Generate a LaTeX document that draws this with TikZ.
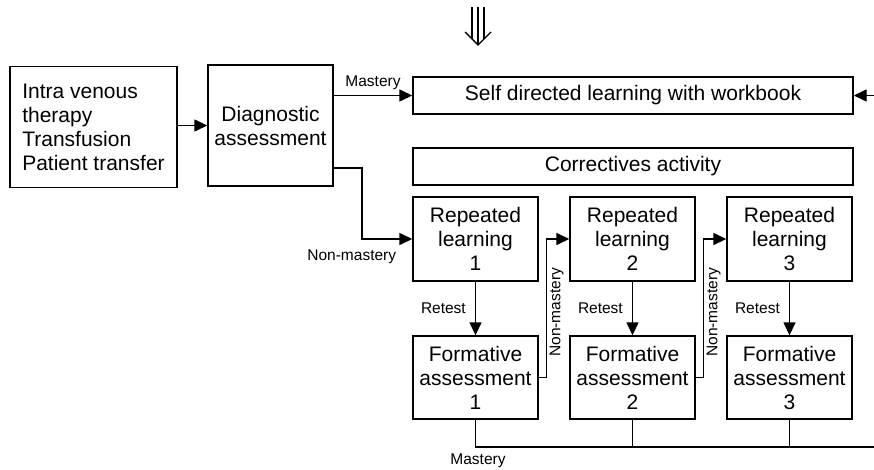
\documentclass[tikz,border=0pt]{standalone}
\usepackage{fontspec}
\setmainfont{Liberation Sans}
\usetikzlibrary{arrows.meta,positioning}
\tikzset{
  blk/.style={draw, line width=1.4pt, align=center, inner sep=2pt, font=\fontsize{21}{24}\selectfont},
  lbl/.style={font=\fontsize{15.5}{18}\selectfont, inner sep=1pt},
  ln/.style={line width=1.4pt},
  arr/.style={ln, -{Triangle[length=13pt,width=12pt]}}
}
\begin{document}
\begin{tikzpicture}[x=1pt,y=-1pt]
\useasboundingbox (0,0) rectangle (874,470);
% triple arrow on top
\draw[ln] (472,7)--(472,39) (478,7)--(478,45) (484,7)--(484,39);
\draw[ln] (465,32)--(478,45)--(491,32);

\node[blk, minimum width=167pt, minimum height=121pt, align=left] (topics) at (93.5,127)
  {Intra venous\\therapy\\Transfusion\\Patient transfer};
\node[blk, minimum width=125pt, minimum height=121pt] (diag) at (270.5,125.5) {Diagnostic\\assessment};
\node[blk, minimum width=440pt, minimum height=37pt] (self) at (633,95.5) {Self directed learning with workbook};
\node[blk, minimum width=440pt, minimum height=37pt] (corr) at (633,166.5) {Correctives activity};

\foreach \i/\x in {1/475.5,2/632.5,3/789.5}{
  \node[blk, minimum width=125pt, minimum height=84pt] (rl\i) at (\x,239) {Repeated\\learning\\\i};
  \node[blk, minimum width=125pt, minimum height=83pt] (fa\i) at (\x,377.5) {Formative\\assessment\\\i};
  \draw[arr] (rl\i) -- node[lbl, left=8pt]{Retest} (fa\i);
}

\draw[arr] (topics.east |- diag.west) -- (diag);
\draw[arr] (diag.east |- self.west) -- node[lbl, above=4pt]{Mastery} (self.west);
\coordinate (rin) at (874,95.5);
\draw[arr] (rin) -- (self.east);

% non-mastery branch
\coordinate (nm) at (362,168);
\draw[arr] (diag.east |- nm) -- (nm) |- (rl1.west);
\node[lbl, below left=10pt and 15pt of rl1.west] (nmlab) {Non-mastery};

\foreach \i/\j in {1/2,2/3}{
  \draw[arr] (fa\i.east) -- ++(8,0) |- node[lbl, pos=0.235, rotate=90, anchor=north, outer sep=2pt]{Non-mastery} (rl\j.west);
}

% mastery line at the bottom
\coordinate (mend) at (874,447);
\draw[ln] (fa1.south) |- (mend);
\draw[ln] (fa2.south) -- (fa2.south |- mend);
\draw[ln] (fa3.south) -- (fa3.south |- mend);
\node[lbl] (mlab) at (478,461) {Mastery};
\end{tikzpicture}
\end{document}
